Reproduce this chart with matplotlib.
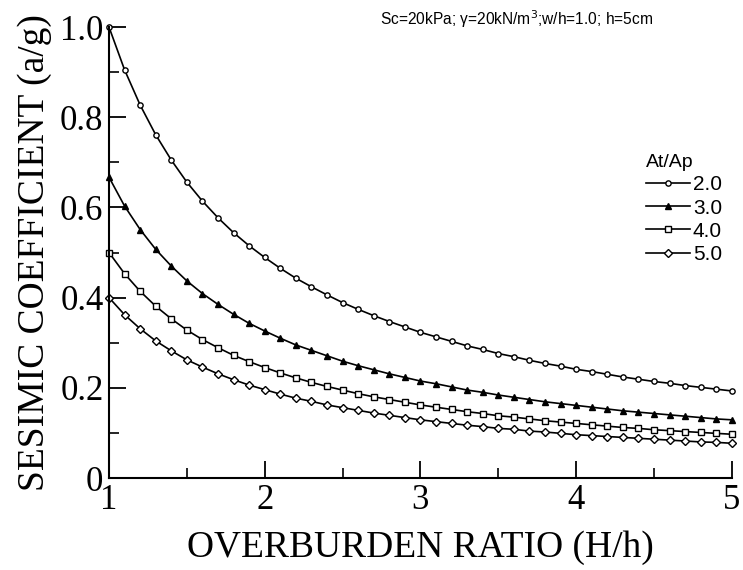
import matplotlib
matplotlib.use("Agg")
import matplotlib.pyplot as plt
from matplotlib.ticker import MultipleLocator

# overburden ratio H/h, one point every 0.1
H = [1.0, 1.1, 1.2, 1.3, 1.4, 1.5, 1.6, 1.7, 1.8, 1.9,
     2.0, 2.1, 2.2, 2.3, 2.4, 2.5, 2.6, 2.7, 2.8, 2.9,
     3.0, 3.1, 3.2, 3.3, 3.4, 3.5, 3.6, 3.7, 3.8, 3.9,
     4.0, 4.1, 4.2, 4.3, 4.4, 4.5, 4.6, 4.7, 4.8, 4.9, 5.0]

# seismic coefficient a/g for each At/Ap
ag_20 = [1.000, 0.905, 0.827, 0.761, 0.705, 0.656, 0.614, 0.577, 0.544, 0.515,
         0.489, 0.465, 0.443, 0.424, 0.406, 0.389, 0.374, 0.360, 0.347, 0.335,
         0.323, 0.313, 0.303, 0.293, 0.285, 0.276, 0.269, 0.261, 0.254, 0.248,
         0.241, 0.236, 0.230, 0.224, 0.219, 0.214, 0.210, 0.205, 0.201, 0.197, 0.193]
ag_30 = [0.667, 0.603, 0.551, 0.507, 0.470, 0.437, 0.409, 0.385, 0.363, 0.343,
         0.326, 0.310, 0.295, 0.283, 0.271, 0.259, 0.249, 0.240, 0.231, 0.223,
         0.215, 0.209, 0.202, 0.195, 0.190, 0.184, 0.179, 0.174, 0.169, 0.165,
         0.161, 0.157, 0.153, 0.149, 0.146, 0.143, 0.140, 0.137, 0.134, 0.131, 0.129]
ag_40 = [0.500, 0.453, 0.414, 0.381, 0.353, 0.328, 0.307, 0.289, 0.272, 0.258,
         0.245, 0.233, 0.222, 0.212, 0.203, 0.195, 0.187, 0.180, 0.174, 0.168,
         0.162, 0.157, 0.152, 0.147, 0.143, 0.138, 0.135, 0.131, 0.127, 0.124,
         0.121, 0.118, 0.115, 0.112, 0.110, 0.107, 0.105, 0.103, 0.101, 0.099, 0.097]
ag_50 = [0.400, 0.362, 0.331, 0.304, 0.282, 0.262, 0.246, 0.231, 0.218, 0.206,
         0.196, 0.186, 0.177, 0.170, 0.162, 0.156, 0.150, 0.144, 0.139, 0.134,
         0.129, 0.125, 0.121, 0.117, 0.114, 0.110, 0.108, 0.104, 0.102, 0.099,
         0.096, 0.094, 0.092, 0.090, 0.088, 0.086, 0.084, 0.082, 0.080, 0.079, 0.077]

ratios = ["2.0", "3.0", "4.0", "5.0"]
series = [ag_20, ag_30, ag_40, ag_50]
markers = ["o", "^", "s", "D"]
msizes = [3.8, 3.8, 3.8, 3.8]
fills = ["white", "black", "white", "white"]

xticks = [1, 2, 3, 4, 5]
xticklabels = ["1", "2", "3", "4", "5"]
yticks = [0, 0.2, 0.4, 0.6, 0.8, 1.0]
yticklabels = ["0", "0.2", "0.4", "0.6", "0.8", "1.0"]

serif = "Liberation Serif"
sans = "Liberation Sans"

fig = plt.figure(figsize=(7.43, 5.70), dpi=100)
ax = fig.add_axes([0.1467, 0.1614, 0.8383, 0.7912])

for lab, y, m, ms, fc in zip(ratios, series, markers, msizes, fills):
    ax.plot(H, y, color="black", lw=1.2, marker=m, ms=ms, mfc=fc, mec="black",
            mew=1.0, label=lab, clip_on=False)

ax.set_xlim(1, 5)
ax.set_ylim(0, 1.0)
ax.set_xticks(xticks)
ax.set_xticklabels(xticklabels)
ax.set_yticks(yticks)
ax.set_yticklabels(yticklabels)
ax.xaxis.set_minor_locator(MultipleLocator(0.5))
ax.yaxis.set_minor_locator(MultipleLocator(0.1))

for s in ["top", "right"]:
    ax.spines[s].set_visible(False)
for s in ["left", "bottom"]:
    ax.spines[s].set_linewidth(1.5)

ax.tick_params(which="major", direction="in", length=12, width=1.3, pad=4)
ax.tick_params(which="minor", direction="in", length=7, width=1.2)
for t in ax.get_xticklabels() + ax.get_yticklabels():
    t.set_fontfamily(serif)
    t.set_fontsize(25)

ax.set_xlabel("OVERBURDEN RATIO (H/h)", fontfamily=serif, fontsize=27, labelpad=10)
ax.set_ylabel("SESIMIC COEFFICIENT (a/g)", fontfamily=serif, fontsize=27, labelpad=6)

fig.text(0.512, 0.967, "Sc=20kPa; γ=20kN/m$^{3}$;w/h=1.0; h=5cm",
         fontfamily=sans, fontsize=11.2, va="center", ha="left")

leg = ax.legend(title="At/Ap", frameon=False, loc="upper left",
                bbox_to_anchor=(0.862, 0.718), title_fontsize=14,
                handlelength=2.1, handletextpad=0.15, labelspacing=0.2,
                borderpad=0, borderaxespad=0, alignment="left",
                prop={"family": sans, "size": 15})
leg.get_title().set_fontfamily(sans)

fig.savefig("out.png", dpi=100)
